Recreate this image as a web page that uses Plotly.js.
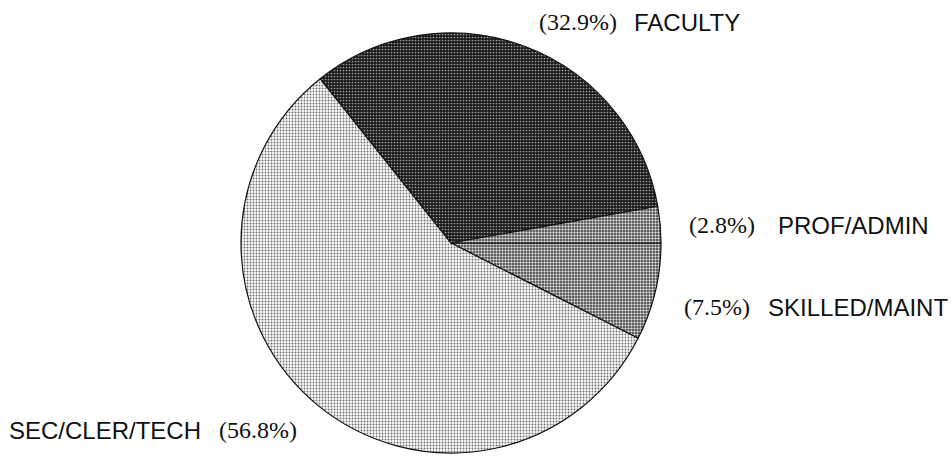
<!DOCTYPE html>
<html>
<head>
<meta charset="utf-8">
<script src="https://cdn.plot.ly/plotly-3.0.1.min.js"></script>
<style>
  html, body { margin: 0; padding: 0; background: #fff; }
  #chart { width: 951px; height: 456px; }
</style>
</head>
<body>
<div id="chart"></div>
<script>
// ---- data (clockwise from 3 o'clock) ----
var categories = ["SKILLED/MAINT", "SEC/CLER/TECH", "FACULTY", "PROF/ADMIN"];
var percents   = [7.5, 56.8, 32.9, 2.8];

// ---- styling ----
var bgColors = ["#383838", "#f6f6f6", "#1a1a1a", "#383838"];
var fgColors = ["#d8d8d8", "#707070", "#a0a0a0", "#d8d8d8"];
var solid    = [0.5, 0.3, 0.26, 0.5];

// label layout: x of percent text, x of name text, y center (px)
var labelLayout = {
  "FACULTY":       {pctX: 537, nameX: 632, y: 22},
  "PROF/ADMIN":    {pctX: 687, nameX: 776, y: 225},
  "SKILLED/MAINT": {pctX: 682, nameX: 766, y: 307},
  "SEC/CLER/TECH": {pctX: 217, nameX: 7,   y: 430}
};

var W = 951, H = 456;
var sansFont  = {family: "Liberation Sans, Arial, sans-serif", size: 24, color: "#111"};
var serifFont = {family: "Liberation Serif, Times New Roman, serif", size: 24, color: "#111"};

var annotations = [];
categories.forEach(function (cat, i) {
  var L = labelLayout[cat];
  annotations.push({
    xref: "paper", yref: "paper",
    x: L.pctX / W, y: 1 - L.y / H,
    xanchor: "left", yanchor: "middle",
    text: "(" + percents[i].toFixed(1) + "%)",
    showarrow: false, font: serifFont
  });
  annotations.push({
    xref: "paper", yref: "paper",
    x: L.nameX / W, y: 1 - L.y / H,
    xanchor: "left", yanchor: "middle",
    text: cat,
    showarrow: false, font: sansFont
  });
});

var trace = {
  type: "pie",
  labels: categories,
  values: percents,
  sort: false,
  direction: "clockwise",
  rotation: 90,
  textinfo: "none",
  hoverinfo: "label+percent",
  domain: {x: [241 / W, 661 / W], y: [1 - 453 / H, 1 - 33 / H]},
  marker: {
    colors: bgColors,
    line: {color: "#111", width: 1.2},
    pattern: {
      shape: ".",
      bgcolor: bgColors,
      fgcolor: fgColors,
      size: 3,
      solidity: solid
    }
  },
  showlegend: false
};

var layout = {
  width: W, height: H,
  margin: {l: 0, r: 0, t: 0, b: 0},
  paper_bgcolor: "#fff",
  plot_bgcolor: "#fff",
  showlegend: false,
  annotations: annotations
};

Plotly.newPlot("chart", [trace], layout, {displayModeBar: false, staticPlot: true});
</script>
</body>
</html>
